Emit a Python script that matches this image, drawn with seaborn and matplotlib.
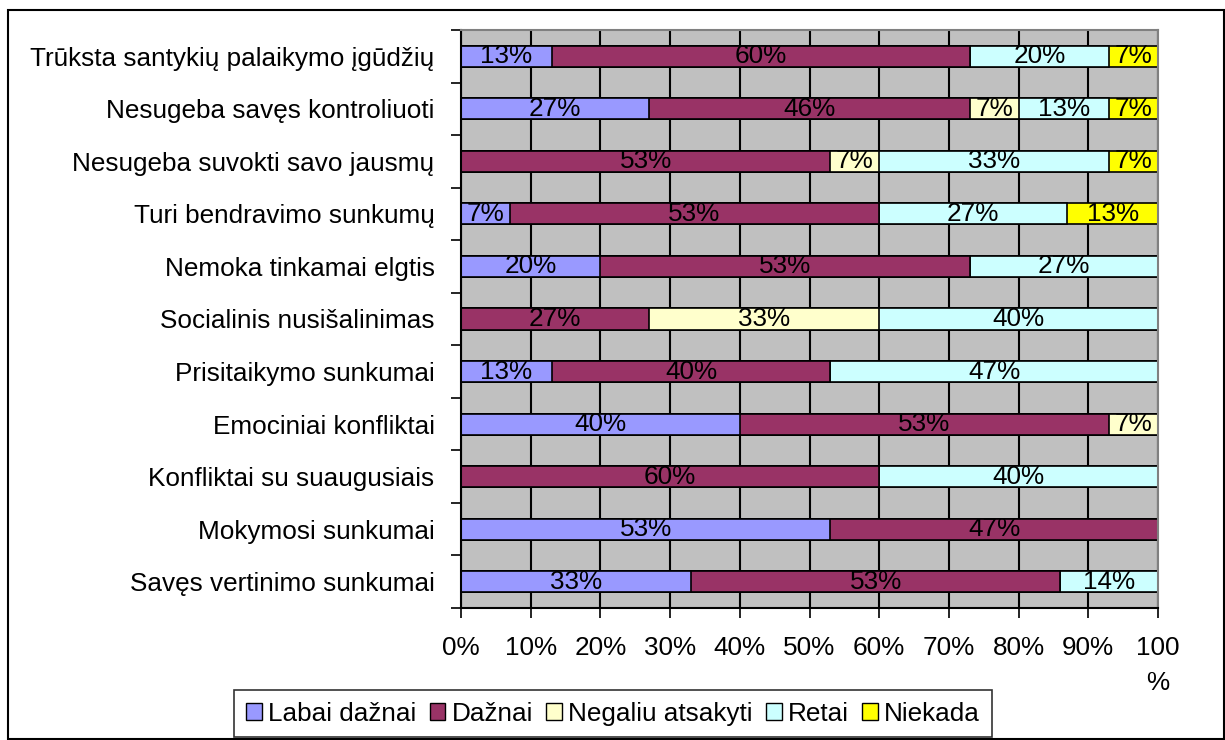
import numpy as np
import pandas as pd
import matplotlib
matplotlib.use("Agg")
import matplotlib.pyplot as plt
from matplotlib.patches import Patch, Rectangle
import seaborn as sns

categories = [
    "Trūksta santykių palaikymo įgūdžių",
    "Nesugeba savęs kontroliuoti",
    "Nesugeba suvokti savo jausmų",
    "Turi bendravimo sunkumų",
    "Nemoka tinkamai elgtis",
    "Socialinis nusišalinimas",
    "Prisitaikymo sunkumai",
    "Emociniai konfliktai",
    "Konfliktai su suaugusiais",
    "Mokymosi sunkumai",
    "Savęs vertinimo sunkumai",
]
labai_daznai = [13, 27, 0, 7, 20, 0, 13, 40, 0, 53, 33]
daznai = [60, 46, 53, 53, 53, 27, 40, 53, 60, 47, 53]
negaliu_atsakyti = [0, 7, 7, 0, 0, 33, 0, 7, 0, 0, 0]
retai = [20, 13, 33, 27, 27, 40, 47, 0, 40, 0, 14]
niekada = [7, 7, 7, 13, 0, 0, 0, 0, 0, 0, 0]

series_names = ["Labai dažnai", "Dažnai", "Negaliu atsakyti", "Retai", "Niekada"]
series_values = [labai_daznai, daznai, negaliu_atsakyti, retai, niekada]
series_colors = ["#9999FF", "#993366", "#FFFFCC", "#CCFFFF", "#FFFF00"]
tick_values = [0, 10, 20, 30, 40, 50, 60, 70, 80, 90, 100]
tick_labels = ["0%", "10%", "20%", "30%", "40%", "50%", "60%", "70%", "80%", "90%", "100\n%"]

sns.set_theme(style="white")
plt.rcParams["font.family"] = ["Liberation Sans", "DejaVu Sans"]
plt.rcParams["text.color"] = "black"
plt.rcParams["xtick.color"] = "black"
plt.rcParams["ytick.color"] = "black"
plt.rcParams["xtick.labelcolor"] = "black"
plt.rcParams["ytick.labelcolor"] = "black"
FS = 18.8

vals = np.array(series_values, dtype=float)
cum = np.cumsum(vals, axis=0)

fig = plt.figure(figsize=(12.25, 7.4), dpi=100)
ax = fig.add_axes([461 / 1225, 1 - 608 / 740, (1158 - 461) / 1225, (608 - 30) / 740])
ax.set_facecolor("#C0C0C0")

# stacked bars: draw cumulative totals from the outermost layer inward
for i in range(len(series_names) - 1, -1, -1):
    df = pd.DataFrame({"cat": categories, "val": cum[i]})
    sns.barplot(data=df, x="val", y="cat", orient="h", color=series_colors[i],
                saturation=1, width=0.4, edgecolor="black", linewidth=1.2, ax=ax,
                zorder=2)

# segment value labels
for i in range(len(series_names)):
    for j in range(len(categories)):
        v = vals[i, j]
        if v > 0:
            center = cum[i, j] - v / 2
            ax.text(center, j, f"{int(v)}%", ha="center", va="center",
                    fontsize=FS, color="black", zorder=3)

ax.set_xlim(0, 100)
ax.set_ylim(len(categories) - 0.5, -0.5)
ax.set_xticks(tick_values)
ax.set_xticklabels(tick_labels, fontsize=FS, linespacing=1.6, va="top")
ax.set_xlabel("")
ax.set_ylabel("")
ax.set_yticks(range(len(categories)))
ax.set_yticklabels(categories, fontsize=FS)
ax.set_yticks(np.arange(-0.5, len(categories), 1.0), minor=True)
ax.tick_params(axis="y", which="major", length=0, pad=19)
ax.tick_params(axis="y", which="minor", length=7, width=1.2, color="black", direction="out", left=True)
ax.tick_params(axis="x", which="major", length=7, width=1.2, color="black", direction="out",
               bottom=True, pad=13)

ax.xaxis.grid(True, color="black", linewidth=1.5, zorder=0)
ax.yaxis.grid(False)
ax.set_axisbelow(True)

for side in ["left", "bottom"]:
    ax.spines[side].set_color("black")
    ax.spines[side].set_linewidth(1.5)
for side in ["top", "right"]:
    ax.spines[side].set_color("#808080")
    ax.spines[side].set_linewidth(1.5)

handles = [Patch(facecolor=c, edgecolor="black", linewidth=1.0) for c in series_colors]
leg = fig.legend(handles, series_names, loc="lower center", bbox_to_anchor=(0.5005, 0.0),
                 ncol=5, fontsize=FS, frameon=True, fancybox=False, handlelength=0.6,
                 handleheight=0.6, handletextpad=0.25, columnspacing=0.5,
                 borderpad=0.45, borderaxespad=0.1)
leg.get_frame().set_edgecolor("black")
leg.get_frame().set_linewidth(1.2)

# outer chart border
fig.patches.append(Rectangle((8 / 1225, 0.002), 1 - 9 / 1225, 1 - 10 / 740 - 0.002,
                             transform=fig.transFigure, fill=False,
                             edgecolor="black", linewidth=1.5))

fig.savefig("out.png", dpi=100)
